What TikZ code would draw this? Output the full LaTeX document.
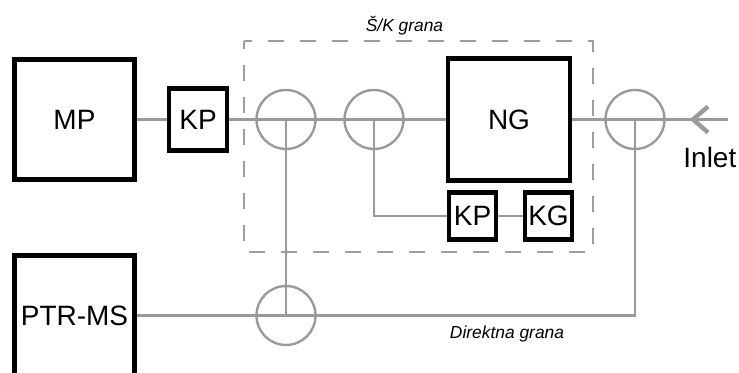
\documentclass[tikz,border=0pt]{standalone}
\usepackage{fontspec}
\setmainfont{Liberation Sans}
\usetikzlibrary{positioning,calc}
\definecolor{pipegray}{HTML}{9A9A9A}
\definecolor{branchgray}{HTML}{9E9E9E}

\begin{document}
\begin{tikzpicture}[x=0.5pt,y=-0.5pt,
    unitbox/.style={draw=black,line width=2.3pt,fill=white,inner sep=0pt,font=\fontsize{14}{16}\selectfont},
    bigbox/.style={unitbox,minimum size=60.2pt},
    smallbox/.style={unitbox,minimum width=29pt,minimum height=31.2pt},
    tinybox/.style={unitbox,minimum size=23.5pt},
    splitter/.style={draw=pipegray,line width=1.2pt,circle,minimum size=29.5pt,inner sep=0pt},
    pipe/.style={draw=pipegray,line width=1.2pt},
    branchlbl/.style={font=\fontsize{8.7}{10}\selectfont\itshape,inner sep=0pt,anchor=base}]
        \useasboundingbox (0,0) rectangle (739,373);
        \draw[branchgray,line width=1.4pt,dash pattern=on 8pt off 8pt,dash phase=4pt] (244,41) rectangle (593,252);
        \node[branchlbl] (sklbl) at (404.5,32) {Š/K grana};
        \node[branchlbl] (directlbl) at (507,339) {Direktna grana};
        \foreach \n/\x/\y in {s1/286/119.5,s2/374/119.5,s3/286/315.5,s4/635/119.5}{
          \node[splitter] (\n) at (\x,\y) {};
        }
        \node[bigbox] (mp) at (74.5,119.5) {MP};
        \node[bigbox] (ptr) at (74.5,315.5) {PTR-MS};
        \node[smallbox] (kp1) at (198,119.5) {KP};
        \node[bigbox,minimum size=61pt] (ng) at (509,119.5) {NG};
        \node[tinybox] (kp2) at (472.5,216) {KP};
        \node[tinybox] (kg) at (548.5,216) {KG};
        \coordinate (inlet) at (728,119.5);
        \coordinate (tip) at (693,119.5);
        \node[font=\fontsize{14}{16}\selectfont,inner sep=0pt,anchor=base west] (inletlbl) at (683,168) {Inlet};
        \draw[pipe] (mp) -- (kp1);
        \draw[pipe] (kp1) -- (ng);
        \draw[pipe] (ng) -- (inlet);
        \draw[pipe] (s1.center) -- (s3.center);
        \draw[pipe] (s2.center) |- (kp2);
        \draw[pipe] (kp2) -- (kg);
        \draw[pipe] (ptr) -| (s4.center);
        \draw[pipegray,line width=2.2pt] ($(tip)+(15,-13)$) -- (tip) -- ($(tip)+(15,13)$);
      \end{tikzpicture}
\end{document}
